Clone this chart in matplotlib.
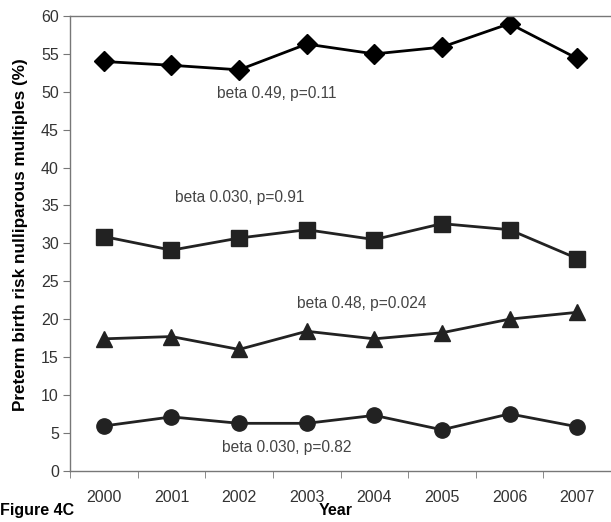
import matplotlib.pyplot as plt

plt.rcParams["font.family"] = ["Liberation Sans", "DejaVu Sans"]

years = ["2000", "2001", "2002", "2003", "2004", "2005", "2006", "2007"]
diamond = [54.0, 53.5, 52.9, 56.3, 55.0, 55.9, 59.0, 54.4]
square = [30.9, 29.1, 30.7, 31.8, 30.5, 32.6, 31.8, 28.0]
triangle = [17.4, 17.7, 16.0, 18.4, 17.4, 18.2, 20.0, 20.9]
circle = [5.9, 7.1, 6.25, 6.25, 7.3, 5.4, 7.5, 5.8]

notes = ["beta 0.49, p=0.11", "beta 0.030, p=0.91",
         "beta 0.48, p=0.024", "beta 0.030, p=0.82"]
note_x = [1.67, 1.05, 2.85, 1.75]
note_y = [49.8, 36.1, 22.1, 3.0]

fig = plt.figure(figsize=(6.11, 5.22), dpi=100)
ax = fig.add_axes([0.1146, 0.0983, 0.8854, 0.871])

x = range(len(years))
ax.plot(x, diamond, color="black", lw=2.0, marker="D", ms=10)
ax.plot(x, square, color="#222222", lw=2.0, marker="s", ms=11)
ax.plot(x, triangle, color="#222222", lw=2.0, marker="^", ms=12)
ax.plot(x, circle, color="#222222", lw=2.0, marker="o", ms=11)

for t, tx, ty in zip(notes, note_x, note_y):
    ax.text(tx, ty, t, fontsize=11.2, color="#444444", va="center")

ax.set_xlim(-0.5, 7.40)
ax.set_ylim(0, 60)
ax.set_yticks(range(0, 61, 5))
ax.set_xticks(list(x))
ax.set_xticklabels(years)
ax.set_xticks([i - 0.5 for i in range(9)], minor=True)
ax.tick_params(axis="x", which="major", length=0, pad=14, labelsize=11.5, labelcolor="#333333")
ax.tick_params(axis="x", which="minor", length=5, color="#777777", direction="out")
ax.tick_params(axis="y", length=5, color="#777777", labelsize=11.5, labelcolor="#333333", pad=3)

for s in ["left", "bottom", "top"]:
    ax.spines[s].set_color("#777777")
    ax.spines[s].set_linewidth(1.0)
ax.spines["right"].set_visible(False)

fig.text(0.033, 0.55, "Preterm birth risk nulliparous multiples (%)", rotation=90,
         fontsize=12.3, fontweight="bold", ha="center", va="center")
fig.text(0.55, 0.022, "Year", fontsize=11.5, fontweight="bold", ha="center", va="center")
fig.text(0.0, 0.022, "Figure 4C", fontsize=11.5, fontweight="bold", ha="left", va="center")

fig.savefig("out.png", dpi=100)
